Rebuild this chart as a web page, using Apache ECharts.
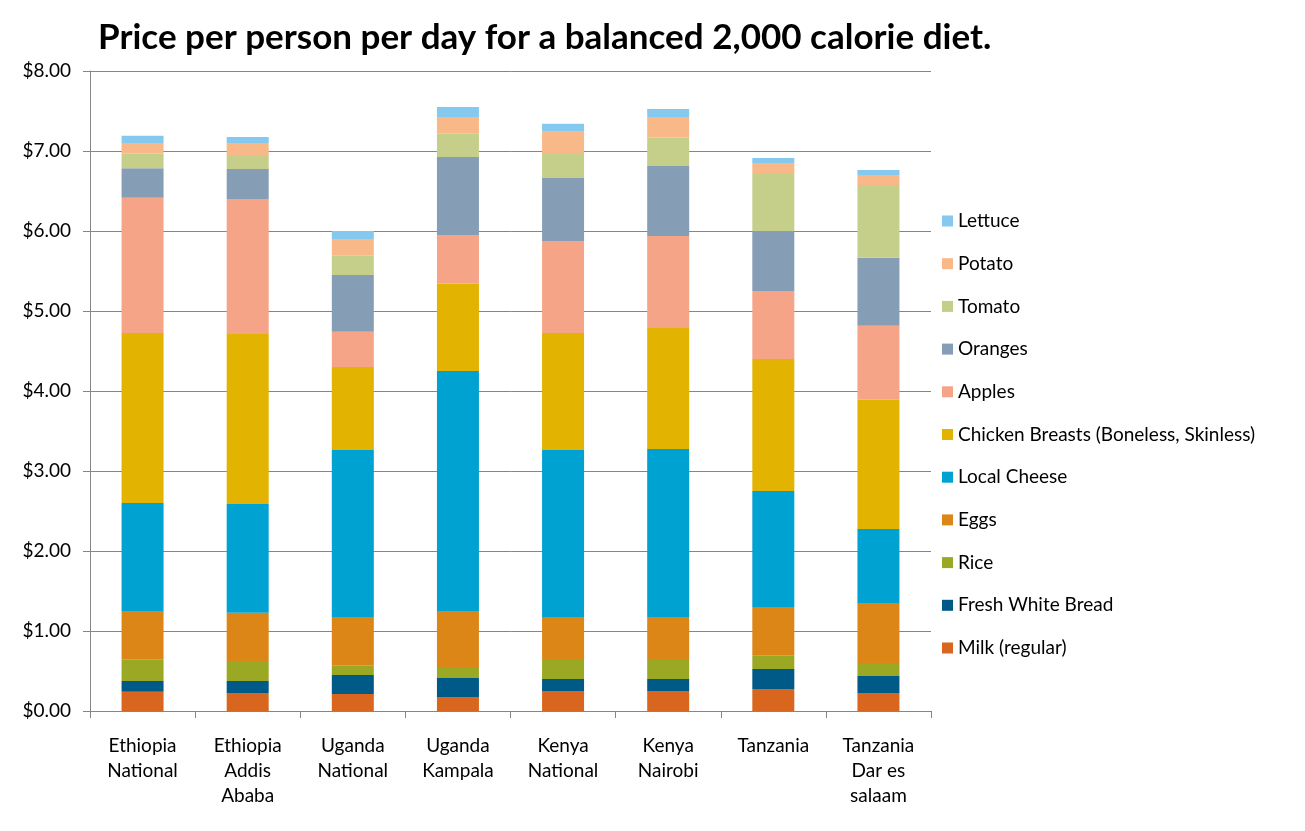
<!DOCTYPE html>
<html>
<head>
<meta charset="utf-8">
<script src="https://cdn.jsdelivr.net/npm/echarts@6/dist/echarts.min.js"></script>
<style>
html,body{margin:0;padding:0;background:#fff;}
#chart{width:1305px;height:831px;}
</style>
</head>
<body>
<div id="chart"></div>
<script>
const categories = ["Ethiopia\nNational", "Ethiopia\nAddis\nAbaba", "Uganda\nNational", "Uganda\nKampala", "Kenya\nNational", "Kenya\nNairobi", "Tanzania", "Tanzania\nDar es\nsalaam"];
const seriesNames = ["Milk (regular)", "Fresh White Bread", "Rice", "Eggs", "Local Cheese", "Chicken Breasts (Boneless, Skinless)", "Apples", "Oranges", "Tomato", "Potato", "Lettuce"];
const milk     = [0.24, 0.225, 0.2125, 0.175, 0.25, 0.25, 0.275, 0.225];
const bread    = [0.135, 0.15, 0.2375, 0.2375, 0.15, 0.15, 0.25, 0.2125];
const rice     = [0.265, 0.25, 0.121, 0.1375, 0.25, 0.25, 0.166, 0.1625];
const eggs     = [0.60, 0.604, 0.595, 0.70, 0.516, 0.525, 0.60, 0.741];
const cheese   = [1.36, 1.359, 2.096, 3.00, 2.096, 2.10, 1.459, 0.934];
const chicken  = [2.125, 2.125, 1.0375, 1.091, 1.4625, 1.5125, 1.65, 1.616];
const apples   = [1.69, 1.6875, 0.441, 0.609, 1.15, 1.15, 0.85, 0.925];
const oranges  = [0.37, 0.375, 0.709, 0.975, 0.7875, 0.875, 0.75, 0.85];
const tomato   = [0.18, 0.175, 0.241, 0.291, 0.3125, 0.354, 0.725, 0.909];
const potato   = [0.135, 0.14, 0.209, 0.20, 0.266, 0.259, 0.125, 0.125];
const lettuce  = [0.09, 0.085, 0.10, 0.134, 0.10, 0.10, 0.0625, 0.0625];
const yTicks = [0, 1, 2, 3, 4, 5, 6, 7, 8];

const values = [milk, bread, rice, eggs, cheese, chicken, apples, oranges, tomato, potato, lettuce];
const colors = ["#D9661F", "#005A87", "#9BA823", "#DD8618", "#00A2D1", "#E2B300", "#F6A488", "#869DB6", "#C5CF8A", "#F9B888", "#85C9EE"];
const FONT = "Lato, 'Open Sans', sans-serif";

const chart = echarts.init(document.getElementById('chart'), null, {renderer: 'canvas'});
chart.setOption({
  animation: false,
  backgroundColor: '#fff',
  color: colors,
  title: {
    text: 'Price per person per day for a balanced 2,000 calorie diet.',
    left: 98, top: 20, padding: 0,
    textStyle: {fontFamily: FONT, fontWeight: 'bold', fontSize: 35, color: '#000'}
  },
  legend: {
    orient: 'vertical',
    left: 942, top: 211.5, padding: 0,
    icon: 'rect',
    itemWidth: 11, itemHeight: 11,
    itemGap: 23.7,
    data: seriesNames.slice().reverse(),
    textStyle: {fontFamily: FONT, fontSize: 19, color: '#000', lineHeight: 19}
  },
  grid: {left: 90, right: 374, top: 71, bottom: 120, containLabel: false},
  xAxis: {
    type: 'category',
    data: categories,
    axisLine: {lineStyle: {color: '#868686', width: 1}},
    axisTick: {show: true, length: 7, lineStyle: {color: '#868686'}},
    axisLabel: {fontFamily: FONT, fontSize: 19, color: '#000', lineHeight: 25, margin: 22, interval: 0}
  },
  yAxis: {
    type: 'value',
    min: yTicks[0], max: yTicks[yTicks.length - 1], interval: 1,
    axisLine: {show: true, lineStyle: {color: '#868686', width: 1}},
    axisTick: {show: true, length: 7, lineStyle: {color: '#868686'}},
    splitLine: {lineStyle: {color: '#868686', width: 1}},
    axisLabel: {fontFamily: FONT, fontSize: 19, color: '#000', margin: 19,
      formatter: v => '$' + v.toFixed(2)}
  },
  series: seriesNames.map((name, i) => ({
    name: name,
    type: 'bar',
    stack: 'total',
    barWidth: 42,
    data: values[i],
    itemStyle: {color: colors[i]}
  }))
});
</script>
</body>
</html>
